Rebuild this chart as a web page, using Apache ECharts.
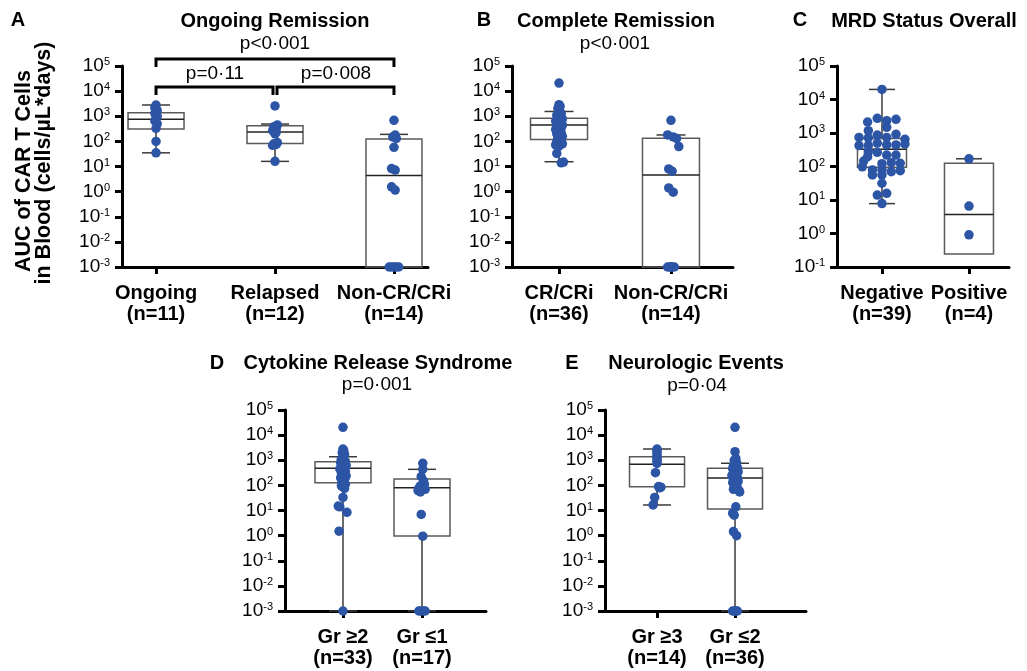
<!DOCTYPE html>
<html><head><meta charset="utf-8">
<script src="https://cdn.jsdelivr.net/npm/echarts@6/dist/echarts.min.js"></script>
<style>html,body{margin:0;padding:0;background:#fff}#c{width:1027px;height:671px}</style>
</head><body><div id="c"></div>
<script>
// ---------------- DATA ----------------
const yExponents = [-3, -2, -1, 0, 1, 2, 3, 4, 5];

// Panel A: Ongoing Remission
const aCategories = ['Ongoing\n(n=11)', 'Relapsed\n(n=12)', 'Non-CR/CRi\n(n=14)'];
const aOngoing = [2800, 2200, 1700, 1300, 1000, 800, 650, 500, 330, 100, 35];
const aOngoingJit = [0, -0.01, 0.01, -0.01, 0.01, 0, -0.01, 0.01, 0, 0, 0];
const aRelapsed = [2570, 450, 380, 320, 270, 230, 200, 90, 80, 75, 70, 16];
const aRelapsedJit = [0, 0.02, -0.01, 0.01, -0.02, 0.01, 0, 0.02, -0.01, 0.01, -0.02, 0];
const aNonCR = [690, 178, 150, 131, 58, 8.3, 7.2, 1.55, 1.15, 0.001, 0.001, 0.001, 0.001, 0.001];
const aNonCRJit = [0, 0.01, -0.01, 0.02, 0, -0.02, 0.01, -0.02, 0.01, -0.04, -0.02, 0, 0.02, 0.04];
const aBoxes = [[35, 310, 760, 1380, 2800], [16, 83, 235, 415, 490], [0.001, 0.001, 4.4, 125, 190]];

// Panel B: Complete Remission
const bCategories = ['CR/CRi\n(n=36)', 'Non-CR/CRi\n(n=14)'];
const bCR = [21000, 2900, 2500, 2100, 1800, 1300, 1100, 950, 850, 780, 700, 640, 580, 520, 480, 440, 410, 380,
  350, 300, 260, 220, 200, 180, 160, 140, 120, 105, 95, 88, 80, 72, 65, 33, 15, 14];
const bCRJit = [0, 0, 0.01, -0.01, 0, 0.02, -0.02, 0.01, -0.01, 0.03, 0, -0.03, 0.02, 0, -0.02, 0.03, 0.01, -0.01,
  0.02, -0.03, 0, 0.02, -0.02, 0.01, 0.03, -0.01, 0, 0.02, -0.02, 0.01, 0.03, -0.03, 0, -0.02, 0.04, 0.02];
const bNonCR = [690, 180, 150, 130, 62, 8, 6.5, 1.4, 0.95, 0.001, 0.001, 0.001, 0.001, 0.001];
const bNonCRJit = [0, -0.03, 0.02, 0.05, 0.07, -0.02, 0.01, -0.02, 0.02, -0.03, -0.01, 0, 0.01, 0.03];
const bBoxes = [[15.5, 120, 445, 830, 1550], [0.001, 0.001, 4.6, 132, 180]];

// Panel C: MRD Status Overall
const cCategories = ['Negative\n(n=39)', 'Positive\n(n=4)'];
const cNegative = [20000, 2750, 2560, 2330, 2130, 1480, 1170, 870, 910, 740, 720, 740, 650, 500, 420, 420, 440, 440,
  470, 275, 265, 220, 220, 196, 146, 130, 125, 98, 121, 79, 79, 70, 75, 56, 56, 31.6, 14, 15.8, 7.8];
const cNegativeJit = [0, -0.054, 0.161, 0.054, -0.165, 0.054, -0.157, -0.054, 0.161, -0.264, -0.157, 0.054, 0.264,
  -0.054, -0.264, -0.157, 0.054, 0.161, 0.264, -0.157, -0.054, 0.054, 0.161, -0.165, -0.21, 0.107, 0.21, -0.226, 0,
  -0.11, 0, 0.107, 0.21, -0.11, 0, 0, -0.054, 0.054, 0];
const cPositive = [170, 6.6, 0.91];
const cPositiveJit = [0, 0, 0];
const cBoxes = [[7.8, 95, 330, 690, 20000], [0.245, 0.245, 3.7, 124, 170]];

// Panel D: Cytokine Release Syndrome
const dCategories = ['Gr \u22652\n(n=33)', 'Gr \u22641\n(n=17)'];
const dHigh = [20500, 2800, 2400, 2000, 1700, 1300, 1100, 900, 800, 700, 620, 560, 500, 450, 400, 360, 320, 280,
  240, 200, 170, 150, 130, 110, 95, 85, 75, 33, 15, 14, 8.5, 1.5, 0.001];
const dHighJit = [0, 0, 0.01, -0.01, 0.02, 0, -0.02, 0.03, -0.03, 0.01, 0.04, -0.01, 0.02, -0.04, 0, 0.03, -0.02, 0.01,
  0.04, -0.03, 0.02, 0, -0.01, 0.03, -0.02, 0.01, 0.02, 0, -0.06, -0.04, 0.05, -0.05, 0];
const dLow = [760, 440, 225, 150, 110, 95, 85, 78, 70, 62, 55, 7, 0.95, 0.001, 0.001, 0.001, 0.001];
const dLowJit = [0.01, 0.01, -0.01, 0.02, 0.03, -0.02, 0, -0.04, 0.04, -0.05, -0.02, -0.01, 0.01, -0.04, -0.02, 0.02, 0.04];
const dBoxes = [[0.001, 128, 480, 870, 1380], [0.001, 0.97, 81, 178, 435]];

// Panel E: Neurologic Events
const eCategories = ['Gr \u22653\n(n=14)', 'Gr \u22642\n(n=36)'];
const eHigh = [2800, 2400, 2000, 1600, 1300, 1100, 900, 750, 320, 90, 85, 80, 33, 16.6];
const eHighJit = [0, 0, 0, 0, 0, 0, 0, 0, -0.02, 0.02, 0.05, 0.03, -0.03, -0.05];
const eLow = [20500, 2200, 1200, 1000, 800, 700, 600, 520, 460, 400, 350, 310, 280, 250, 220, 200, 180, 160, 145,
  130, 115, 100, 90, 80, 70, 62, 55, 14, 7.8, 6.5, 1.45, 1.0, 0.001, 0.001, 0.001, 0.001];
const eLowJit = [0, 0, 0.01, -0.01, 0.02, 0, -0.02, 0.03, -0.03, 0.01, 0.04, -0.01, 0.02, -0.04, 0, 0.03, -0.02, 0.01,
  0.04, -0.03, 0.02, 0, -0.01, 0.03, -0.02, 0.05, 0.06, 0.01, -0.03, -0.01, -0.02, 0.02, -0.03, -0.01, 0.01, 0.03];
const eBoxes = [[16.6, 89, 700, 1380, 2800], [0.001, 11.5, 196, 480, 760]];

// ---------------- LAYOUT / STYLE ----------------
const FONT = '"Liberation Sans", Arial, Helvetica, sans-serif';
const DOT = '#2d55a5';

const panels = [
  { cats: aCategories, groups: [[aOngoing, aOngoingJit], [aRelapsed, aRelapsedJit], [aNonCR, aNonCRJit]], boxes: aBoxes,
    grid: { left: 122, top: 66, width: 306, height: 201 }, xr: [0.714, 3.286], yr: [0.001, 100000], boxW: 56, capW: 28 },
  { cats: bCategories, groups: [[bCR, bCRJit], [bNonCR, bNonCRJit]], boxes: bBoxes,
    grid: { left: 512, top: 66, width: 221, height: 201 }, xr: [0.58, 2.554], yr: [0.001, 100000], boxW: 57, capW: 29 },
  { cats: cCategories, groups: [[cNegative, cNegativeJit], [cPositive, cPositiveJit]], boxes: cBoxes,
    grid: { left: 837, top: 66, width: 172, height: 201 }, xr: [0.483, 2.46], yr: [0.1, 100000], boxW: 49, capW: 26 },
  { cats: dCategories, groups: [[dHigh, dHighJit], [dLow, dLowJit]], boxes: dBoxes,
    grid: { left: 285, top: 410, width: 201, height: 201 }, xr: [0.266, 2.81], yr: [0.001, 100000], boxW: 56, capW: 28 },
  { cats: eCategories, groups: [[eHigh, eHighJit], [eLow, eLowJit]], boxes: eBoxes,
    grid: { left: 605, top: 410, width: 201, height: 201 }, xr: [0.333, 2.91], yr: [0.001, 100000], boxW: 55, capW: 28 }
];

function expLabel(v) {
  const e = Math.round(Math.log10(v));
  const k = yExponents.indexOf(e);
  return '{b|10}{s|' + (k >= 0 ? yExponents[k] : e) + '}';
}

const grids = [], xAxes = [], yAxes = [], series = [];
panels.forEach((p, i) => {
  grids.push(Object.assign({ containLabel: false }, p.grid));
  const ticks = p.cats.map((c, k) => k + 1);
  xAxes.push({
    type: 'value', gridIndex: i, min: p.xr[0], max: p.xr[1],
    axisLine: { show: true, onZero: false, lineStyle: { color: '#000', width: 3 } },
    axisTick: { show: true, customValues: ticks, length: 7, lineStyle: { color: '#000', width: 3 } },
    axisLabel: {
      customValues: ticks, formatter: v => p.cats[Math.round(v) - 1] || '',
      fontSize: 20, fontWeight: 'bold', lineHeight: 21, margin: 16, color: '#000', fontFamily: FONT
    },
    splitLine: { show: false }
  });
  yAxes.push({
    type: 'log', logBase: 10, gridIndex: i, min: p.yr[0], max: p.yr[1], splitNumber: 8,
    axisLine: { show: true, onZero: false, lineStyle: { color: '#000', width: 3 } },
    axisTick: { show: true, length: 7, lineStyle: { color: '#000', width: 3 } },
    minorTick: { show: false }, splitLine: { show: false },
    axisLabel: {
      margin: 12, formatter: expLabel, color: '#000', fontFamily: FONT,
      rich: {
        b: { fontSize: 19, fontFamily: FONT, color: '#000', verticalAlign: 'bottom', lineHeight: 19 },
        s: { fontSize: 11, fontFamily: FONT, color: '#000', verticalAlign: 'bottom', lineHeight: 11, padding: [0, 0, 8, 0] }
      }
    }
  });
  const bw = p.boxW, cw = p.capW;
  series.push({
    type: 'custom', xAxisIndex: i, yAxisIndex: i, z: 1, silent: true, clip: false,
    encode: { x: 0, y: [1, 2, 3, 4, 5] },
    data: p.boxes.map((b, k) => [k + 1].concat(b)),
    renderItem(params, api) {
      const x = api.value(0);
      const v = [1, 2, 3, 4, 5].map(k => api.value(k));
      const py = v.map(val => api.coord([x, val])[1]);
      const cx = api.coord([x, v[2]])[0];
      const hw = bw / 2, hc = cw / 2;
      const ch = [];
      const wStyle = { stroke: '#3a3a3a', lineWidth: 1.5 };
      if (v[0] < v[1]) {
        ch.push({ type: 'line', shape: { x1: cx, y1: py[1], x2: cx, y2: py[0] }, style: wStyle });
        ch.push({ type: 'line', shape: { x1: cx - hc, y1: py[0], x2: cx + hc, y2: py[0] }, style: wStyle });
      }
      if (v[4] > v[3]) {
        ch.push({ type: 'line', shape: { x1: cx, y1: py[3], x2: cx, y2: py[4] }, style: wStyle });
        ch.push({ type: 'line', shape: { x1: cx - hc, y1: py[4], x2: cx + hc, y2: py[4] }, style: wStyle });
      }
      ch.push({ type: 'rect', shape: { x: cx - hw, y: py[3], width: bw, height: py[1] - py[3] },
        style: { fill: 'rgba(0,0,0,0)', stroke: '#5a5a5a', lineWidth: 1.5 } });
      ch.push({ type: 'line', shape: { x1: cx - hw, y1: py[2], x2: cx + hw, y2: py[2] }, style: { stroke: '#222', lineWidth: 1.5 } });
      return { type: 'group', children: ch };
    }
  });
  const pts = [];
  p.groups.forEach((g, k) => g[0].forEach((val, j) => pts.push([k + 1 + (g[1][j] || 0), val])));
  series.push({
    type: 'scatter', xAxisIndex: i, yAxisIndex: i, z: 3, silent: true, clip: false,
    symbolSize: 9.5, itemStyle: { color: DOT, opacity: 1 }, data: pts
  });
});

const chart = echarts.init(document.getElementById('c'), null, { renderer: 'canvas' });
chart.setOption({
  animation: false, backgroundColor: '#fff',
  grid: grids, xAxis: xAxes, yAxis: yAxes, series: series
});

// ---------------- ANNOTATIONS ----------------
function txt(text, x, y, size, bold, rot) {
  return { type: 'text', x: x, y: y, rotation: rot || 0, z: 10, silent: true,
    style: { text: text, fontSize: size, fontWeight: bold ? 'bold' : 'normal', fontFamily: FONT, fill: '#000',
      align: 'center', verticalAlign: 'middle' } };
}
const px = v => chart.convertToPixel({ xAxisIndex: 0 }, v);
const x1 = px(1), x2 = px(2), x3 = px(3);
const bracketStyle = { stroke: '#000', lineWidth: 3, fill: null };
const graphics = [
  txt('A', 18, 20, 20, true),
  txt('Ongoing Remission', 275, 21, 20, true),
  txt('p<0\u00b7001', 275, 44, 19, false),
  txt('p=0\u00b711', 215, 74, 19, false),
  txt('p=0\u00b7008', 336, 74, 19, false),
  txt('B', 484, 20, 20, true),
  txt('Complete Remission', 616, 21, 20, true),
  txt('p<0\u00b7001', 615, 44, 19, false),
  txt('C', 800, 20, 20, true),
  txt('MRD Status Overall', 924, 21, 20, true),
  txt('D', 217, 363, 20, true),
  txt('Cytokine Release Syndrome', 378, 363, 20, true),
  txt('p=0\u00b7001', 377, 385, 19, false),
  txt('E', 572, 363, 20, true),
  txt('Neurologic Events', 696, 363, 20, true),
  txt('p=0\u00b704', 697, 386, 19, false),
  txt('AUC of CAR T Cells', 24, 171, 21.5, true, Math.PI / 2),
  txt('in Blood (cells/\u00b5L*days)', 44, 163, 21.5, true, Math.PI / 2),
  { type: 'polyline', z: 10, silent: true, shape: { points: [[x1, 67], [x1, 59], [x3, 59], [x3, 67]] }, style: bracketStyle },
  { type: 'polyline', z: 10, silent: true, shape: { points: [[x1, 95], [x1, 87], [x2 - 2, 87], [x2 - 2, 95]] }, style: bracketStyle },
  { type: 'polyline', z: 10, silent: true, shape: { points: [[x2 + 2, 95], [x2 + 2, 87], [x3, 87], [x3, 95]] }, style: bracketStyle }
];
chart.setOption({ graphic: graphics });
</script>
</body></html>
